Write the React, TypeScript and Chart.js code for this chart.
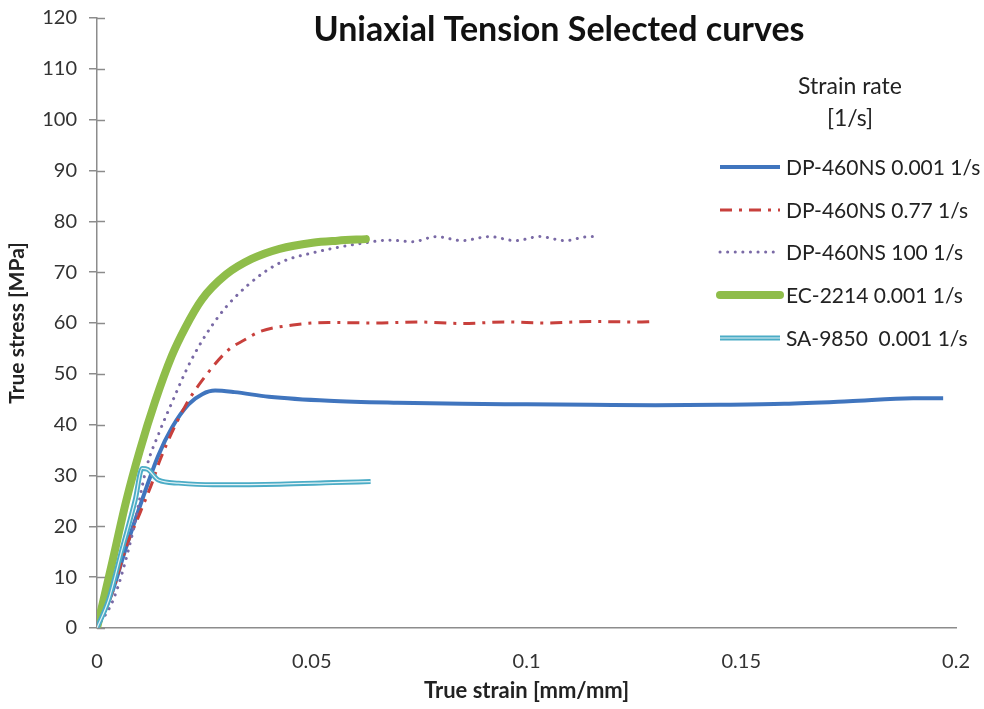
import React, { useEffect, useRef } from "react";
import { Chart, registerables } from "chart.js";

Chart.register(...registerables);

const chartTitle = "Uniaxial Tension Selected curves";
const legendTitle = ["Strain rate", "[1/s]"];
const xAxisTitle = "True strain [mm/mm]";
const yAxisTitle = "True stress [MPa]";
const seriesNames = [
  "DP-460NS 0.001 1/s",
  "DP-460NS 0.77 1/s",
  "DP-460NS 100 1/s",
  "EC-2214 0.001 1/s",
  "SA-9850  0.001 1/s",
];

const blueX = [0, 0.0035, 0.0066, 0.0105, 0.0143, 0.0175, 0.0213, 0.0245, 0.0275, 0.032, 0.04, 0.054, 0.07, 0.085, 0.1, 0.115, 0.13, 0.145, 0.16, 0.175, 0.19, 0.197];
const blueY = [0, 7, 15.4, 25.2, 34, 39.5, 44, 46, 46.7, 46.4, 45.5, 44.7, 44.3, 44.1, 44, 43.9, 43.8, 43.9, 44.1, 44.6, 45.2, 45.2];

const redX = [0, 0.0035, 0.0066, 0.01, 0.0128, 0.0147, 0.0205, 0.0252, 0.0306, 0.0344, 0.0379, 0.0456, 0.054, 0.065, 0.075, 0.085, 0.095, 0.105, 0.115, 0.125, 0.13];
const redY = [0, 6.8, 15.4, 22.6, 28.5, 33.1, 43.6, 49.5, 54.7, 56.7, 58.3, 59.6, 60.1, 60.0, 60.2, 59.9, 60.2, 60.0, 60.3, 60.2, 60.3];

const purpleX = [0, 0.004, 0.0081, 0.0116, 0.0145, 0.017, 0.022, 0.0283, 0.0352, 0.0425, 0.0502, 0.0626, 0.068, 0.0735, 0.079, 0.085, 0.0913, 0.0975, 0.103, 0.109, 0.1145, 0.1164];
const purpleY = [0, 6, 18, 31.8, 38.5, 43.5, 52.8, 61.3, 67.5, 71.8, 73.8, 75.8, 76.3, 76.0, 77.0, 76.2, 77.0, 76.2, 77.0, 76.2, 77.0, 77.0];

const greenX = [0, 0.0033, 0.0068, 0.01, 0.0135, 0.0174, 0.0205, 0.0244, 0.03, 0.036, 0.0425, 0.0502, 0.056, 0.0626];
const greenY = [0, 12, 25, 35, 44.5, 53.5, 59, 64.6, 69.5, 72.6, 74.6, 75.8, 76.2, 76.5];

const cyanX = [0, 0.0027, 0.0058, 0.0089, 0.0105, 0.0118, 0.0143, 0.019, 0.027, 0.0425, 0.055, 0.0637];
const cyanY = [0, 5.5, 15.4, 25.2, 31.4, 31.2, 29.1, 28.5, 28.2, 28.3, 28.6, 28.8];

const yTicks = { min: 0, max: 120, step: 10 };
const xTicks = { min: 0, max: 0.2, step: 0.05 };

const pts = (xs: number[], ys: number[]) => xs.map((x, i) => ({ x, y: ys[i] }));

const FONT = "Lato, 'Open Sans', sans-serif";

const overlayPlugin = {
  id: "overlayPlugin",
  afterDraw(chart: any) {
    const ctx = chart.ctx;
    const yScale = chart.scales.y;
    ctx.save();
    ctx.strokeStyle = "#8c8c8c";
    ctx.lineWidth = 1.5;
    yScale.ticks.forEach((t: any) => {
      const py = Math.round(yScale.getPixelForValue(t.value)) + 0.5;
      ctx.beginPath();
      ctx.moveTo(yScale.right, py);
      ctx.lineTo(yScale.right + 8, py);
      ctx.stroke();
    });
    ctx.restore();

    ctx.save();
    ctx.fillStyle = "#111";
    ctx.font = `bold 34px ${FONT}`;
    ctx.textAlign = "center";
    ctx.textBaseline = "middle";
    ctx.fillText(chartTitle, 559, 30);
    ctx.restore();

    ctx.save();
    ctx.fillStyle = "#222";
    ctx.font = `23px ${FONT}`;
    ctx.textAlign = "center";
    ctx.textBaseline = "middle";
    ctx.fillText(legendTitle[0], 850, 87);
    ctx.fillText(legendTitle[1], 850, 119);
    const rows = [167, 210, 252, 295, 338];
    const ds = chart.data.datasets;
    ctx.textAlign = "left";
    ctx.font = `21px ${FONT}`;
    for (let i = 0; i < seriesNames.length; i++) {
      const d = ds[i];
      const y = rows[i];
      ctx.save();
      ctx.strokeStyle = d.borderColor;
      ctx.lineWidth = d.borderWidth;
      ctx.lineCap = d.borderCapStyle || "butt";
      ctx.setLineDash(d.borderDash || []);
      ctx.beginPath();
      ctx.moveTo(720, y);
      ctx.lineTo(780, y);
      ctx.stroke();
      if (i === 4) {
        const o = ds[5];
        ctx.strokeStyle = o.borderColor;
        ctx.lineWidth = o.borderWidth;
        ctx.beginPath();
        ctx.moveTo(720, y);
        ctx.lineTo(780, y);
        ctx.stroke();
      }
      ctx.restore();
      ctx.fillStyle = "#222";
      ctx.fillText(seriesNames[i], 786, y + 1);
    }
    ctx.restore();
  },
};

export default function App() {
  const ref = useRef<HTMLCanvasElement>(null);
  useEffect(() => {
    document.body.style.margin = "0";
    const canvas = ref.current!;
    const common = { pointRadius: 0, fill: false, cubicInterpolationMode: "monotone" as const };
    const chart = new Chart(canvas, {
      type: "line",
      data: {
        datasets: [
          { ...common, label: seriesNames[0], data: pts(blueX, blueY), borderColor: "#4075be", borderWidth: 4, order: 5 },
          { ...common, label: seriesNames[1], data: pts(redX, redY), borderColor: "#c8403c", borderWidth: 3, borderDash: [12, 7, 3, 7], order: 4 },
          { ...common, label: seriesNames[2], data: pts(purpleX, purpleY), borderColor: "#7a6aa6", borderWidth: 3, borderDash: [0.1, 7.5], borderCapStyle: "round", order: 3 },
          { ...common, label: seriesNames[3], data: pts(greenX, greenY), borderColor: "#8fbd4a", borderWidth: 8, borderCapStyle: "round", order: 2 },
          { ...common, label: seriesNames[4], data: pts(cyanX, cyanY), borderColor: "#4bacc6", borderWidth: 5, order: 1 },
          { ...common, label: "", data: pts(cyanX, cyanY), borderColor: "rgba(255,255,255,0.85)", borderWidth: 1.2, order: 0 },
        ] as any,
      },
      options: {
        responsive: false,
        animation: false,
        layout: { padding: { top: 18, right: 12, left: 0, bottom: 0 } },
        plugins: { legend: { display: false }, tooltip: { enabled: false }, title: { display: false } },
        scales: {
          x: {
            type: "linear",
            min: xTicks.min,
            max: xTicks.max,
            afterFit: (s: any) => { s.height = 81; },
            grid: { display: false },
            border: { display: true, color: "#8c8c8c", width: 1.5 },
            ticks: {
              stepSize: xTicks.step,
              padding: 14,
              color: "#333",
              font: { family: FONT, size: 20 },
              callback: (v: any) => String(Number(Number(v).toFixed(2))),
            },
            title: { display: true, text: xAxisTitle, color: "#222", font: { family: FONT, size: 22, weight: "bold" }, padding: { top: 0, bottom: 5 } },
          },
          y: {
            type: "linear",
            min: yTicks.min,
            max: yTicks.max,
            afterFit: (s: any) => { s.width = 97; s.paddingTop = 0; s.paddingBottom = 0; },
            grid: { display: true, drawOnChartArea: false, drawTicks: true, tickLength: 8, color: "#8c8c8c", lineWidth: 1.5 },
            border: { display: true, color: "#8c8c8c", width: 1.5 },
            ticks: { stepSize: yTicks.step, padding: 12, color: "#333", font: { family: FONT, size: 20 } },
            title: { display: true, text: yAxisTitle, color: "#222", font: { family: FONT, size: 21, weight: "bold" }, padding: { top: 5, bottom: 0 } },
          },
        },
      },
      plugins: [overlayPlugin],
    });
    return () => chart.destroy();
  }, []);
  return (
    <div style={{ width: 984, height: 709, background: "#fff" }}>
      <canvas ref={ref} width={984} height={709} />
    </div>
  );
}
